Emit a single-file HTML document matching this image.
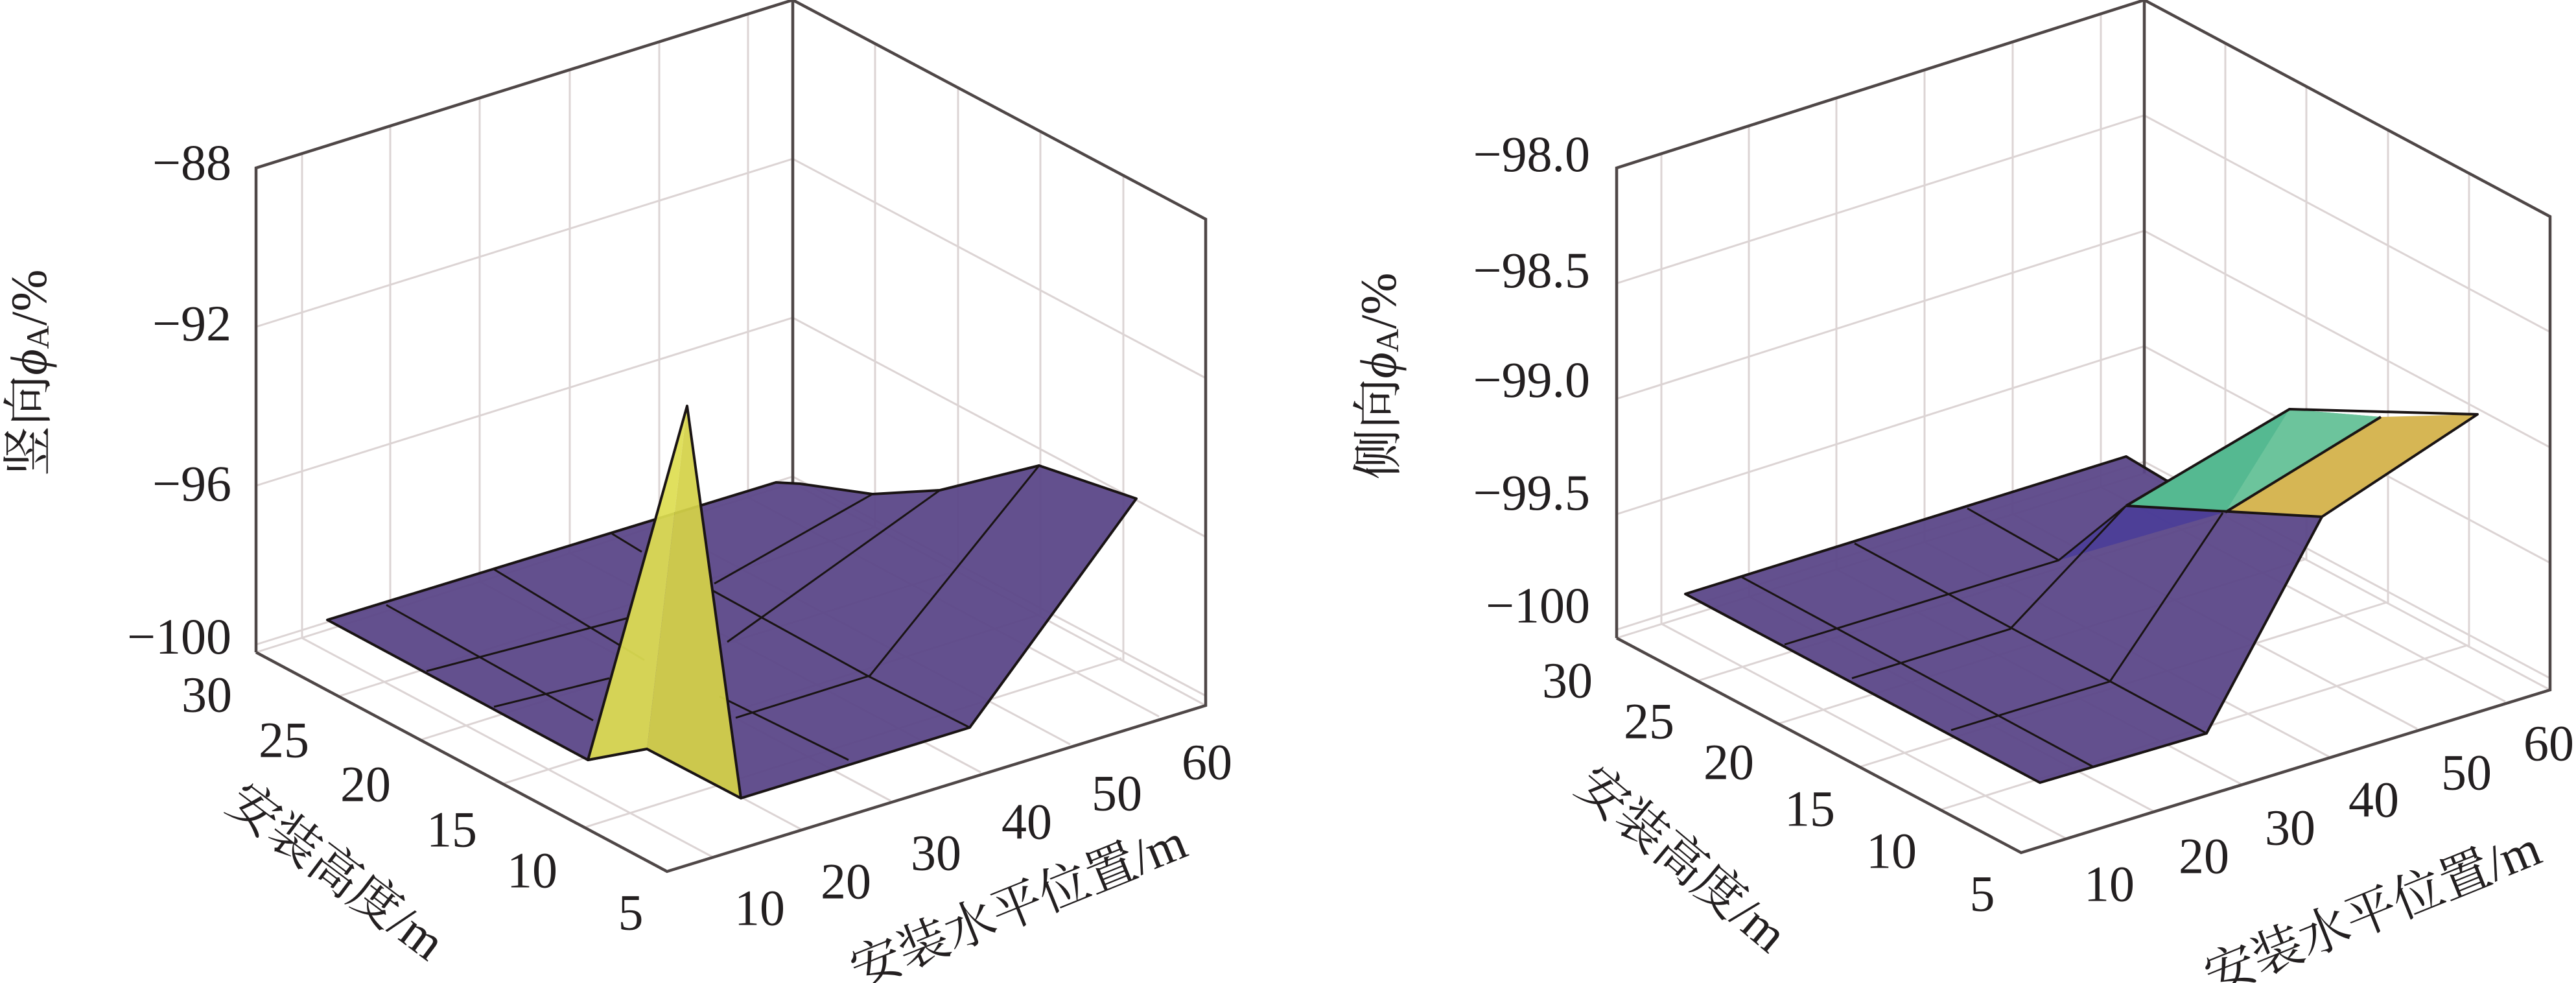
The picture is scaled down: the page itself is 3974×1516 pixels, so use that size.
<!DOCTYPE html>
<html><head><meta charset="utf-8"><style>
html,body{margin:0;padding:0;background:#fff}
svg{display:block}
text{font-family:"Liberation Serif","Noto Serif CJK SC","Noto Sans CJK SC",serif;fill:#231f20}
.t{font-size:78px}
.g{stroke:#dcd4d4;stroke-width:3;fill:none}
.b{stroke:#4f4747;stroke-width:4.5;fill:none}
.e{stroke:#1a1414;stroke-width:4;fill:none;stroke-linejoin:round}
.i{stroke:#1a1414;stroke-width:3;fill:none}
</style></head><body>
<svg width="3974" height="1516" viewBox="0 0 3974 1516" xmlns="http://www.w3.org/2000/svg">
<!-- LEFT CHART grid -->
<g class="g">
<path d="M466,984L466,237M602,941L602,194M740,897L740,151M879,853L879,107M1017,810L1017,64M1154,767L1154,21"/>
<path d="M1350,814L1350,68M1478,882L1478,135M1605,951L1605,203M1733,1019L1733,270"/>
<path d="M395,504L1223,245L1860,583M395,749L1223,490L1860,828M395,994L1223,735L1860,1073"/>
<path d="M466,984L1100,1322M602,941L1236,1279M740,897L1374,1235M879,853L1513,1191M1017,810L1651,1148M1154,767L1788,1105"/>
<path d="M522,1074L1350,813M649,1141L1477,880M775,1209L1603,948M902,1276L1730,1015"/>
<path d="M395,1006L1223,745L1860,1088"/>
</g>
<g class="b">
<path d="M395,1006L395,259L1223,0L1860,338L1860,1088L1029,1344L395,1006"/>
<path d="M1223,0L1223,745"/>
</g>
<!-- left surface -->
<polygon points="505,956 1197,744 1234,746 1346,762 1450,756 1603,718 1753,769 1496,1122 1143,1231 998,1155 907,1172" fill="#5b4788" fill-opacity="0.95"/>
<g class="i">
<path d="M596,933L915,1111M762,878L994,1018M1110,1074L1309,1172M944,823L990,851M1098,910L1338,1042L1496,1122"/>
<path d="M658,1035L969,953M1102,900L1346,762M762,1090L940,1046M1122,990L1450,756M1135,1107L1342,1042L1603,718"/>
</g>
<polygon class="e" points="505,956 1197,744 1234,746 1346,762 1450,756 1603,718 1753,769 1496,1122 1143,1231 998,1155 907,1172"/>
<polygon points="907,1172 1060,626 998,1155" fill="#dede52" fill-opacity="0.93"/>
<polygon points="998,1155 1060,626 1143,1231" fill="#d4d248" fill-opacity="0.93"/>
<polygon class="e" points="907,1172 1060,626 1143,1231 998,1155"/>
<!-- left labels -->
<g class="t" text-anchor="end">
<text x="357" y="277">−88</text><text x="357" y="525">−92</text><text x="357" y="772">−96</text><text x="357" y="1008">−100</text>
</g>
<g class="t" text-anchor="middle" dominant-baseline="central">
<text x="319" y="1071">30</text><text x="438" y="1141">25</text><text x="564" y="1209">20</text><text x="697" y="1279">15</text><text x="821" y="1342">10</text><text x="973" y="1407">5</text>
<text x="1172" y="1400">10</text><text x="1305" y="1359">20</text><text x="1444" y="1315">30</text><text x="1584" y="1267">40</text><text x="1723" y="1223">50</text><text x="1862" y="1175">60</text>
<text transform="translate(519,1344) rotate(37)">安装高度/m</text>
<text transform="translate(1571,1397) rotate(-22)">安装水平位置/m</text>
<text transform="translate(44,575) rotate(-90)">竖向<tspan font-style="italic">ϕ</tspan><tspan font-size="50" dy="14">A</tspan><tspan dy="-14">/%</tspan></text>
</g>

<!-- RIGHT CHART grid -->
<g class="g">
<path d="M2563,962L2563,237M2698,920L2698,194M2833,878L2833,151M2969,836L2969,108M3105,793L3105,64M3241,751L3241,21"/>
<path d="M3433,797L3433,67M3558,864L3558,134M3684,930L3684,200M3809,997L3809,267"/>
<path d="M2494,437L3308,178L3934,512M2494,615L3308,356L3934,690M2494,793L3308,534L3934,868M2494,971L3308,712L3934,1046"/>
<path d="M2563,962L3187,1293M2698,920L3322,1251M2833,878L3457,1209M2969,836L3593,1167M3105,793L3729,1124M3241,751L3865,1082"/>
<path d="M2619,1050L3433,796M2744,1116L3558,862M2868,1183L3682,929M2993,1249L3807,995"/>
<path d="M2494,984L3308,730L3934,1064"/>
</g>
<g class="b">
<path d="M2494,984L2494,259L3308,0L3934,334L3934,1064L3118,1315L2494,984"/>
<path d="M3308,0L3308,730"/>
</g>
<!-- right surface -->
<polygon points="2600,916 3280,704 3342,741 3582,797 3404,1131 3147,1207" fill="#5b4788" fill-opacity="0.95"/>
<polygon points="3280,780 3429,791 3176,864" fill="#4a3d98" fill-opacity="0.9"/>
<g class="i">
<path d="M2687,890L3230,1183M2861,838L3404,1131M3035,784L3176,864M2753,994L3176,864L3280,780M2857,1046L3101,970L3280,780M3010,1126L3255,1051L3429,791"/>
</g>
<polygon class="e" points="2600,916 3280,704 3342,741 3582,797 3404,1131 3147,1207"/>
<polygon points="3280,780 3532,631 3673,643 3433,790" fill="#55b991"/>
<polygon points="3532,631 3673,643 3433,790" fill="#6cc49c"/>
<polygon points="3433,790 3673,643 3822,639 3582,797" fill="#d6b654"/>
<g class="e">
<path d="M3280,780L3532,631L3822,639L3582,797L3280,780M3433,790L3673,643"/>
</g>
<!-- right labels -->
<g class="t" text-anchor="end">
<text x="2453" y="264">−98.0</text><text x="2453" y="443">−98.5</text><text x="2453" y="612">−99.0</text><text x="2453" y="786">−99.5</text><text x="2453" y="960">−100</text>
</g>
<g class="t" text-anchor="middle" dominant-baseline="central">
<text x="2418" y="1049">30</text><text x="2544" y="1112">25</text><text x="2667" y="1175">20</text><text x="2792" y="1247">15</text><text x="2918" y="1312">10</text><text x="3058" y="1378">5</text>
<text x="3254" y="1363">10</text><text x="3400" y="1320">20</text><text x="3533" y="1276">30</text><text x="3662" y="1233">40</text><text x="3805" y="1191">50</text><text x="3932" y="1146">60</text>
<text transform="translate(2595,1325) rotate(40)">安装高度/m</text>
<text transform="translate(3660,1407) rotate(-22)">安装水平位置/m</text>
<text transform="translate(2126,580) rotate(-90)">侧向<tspan font-style="italic">ϕ</tspan><tspan font-size="50" dy="14">A</tspan><tspan dy="-14">/%</tspan></text>
</g>
</svg>
</body></html>
